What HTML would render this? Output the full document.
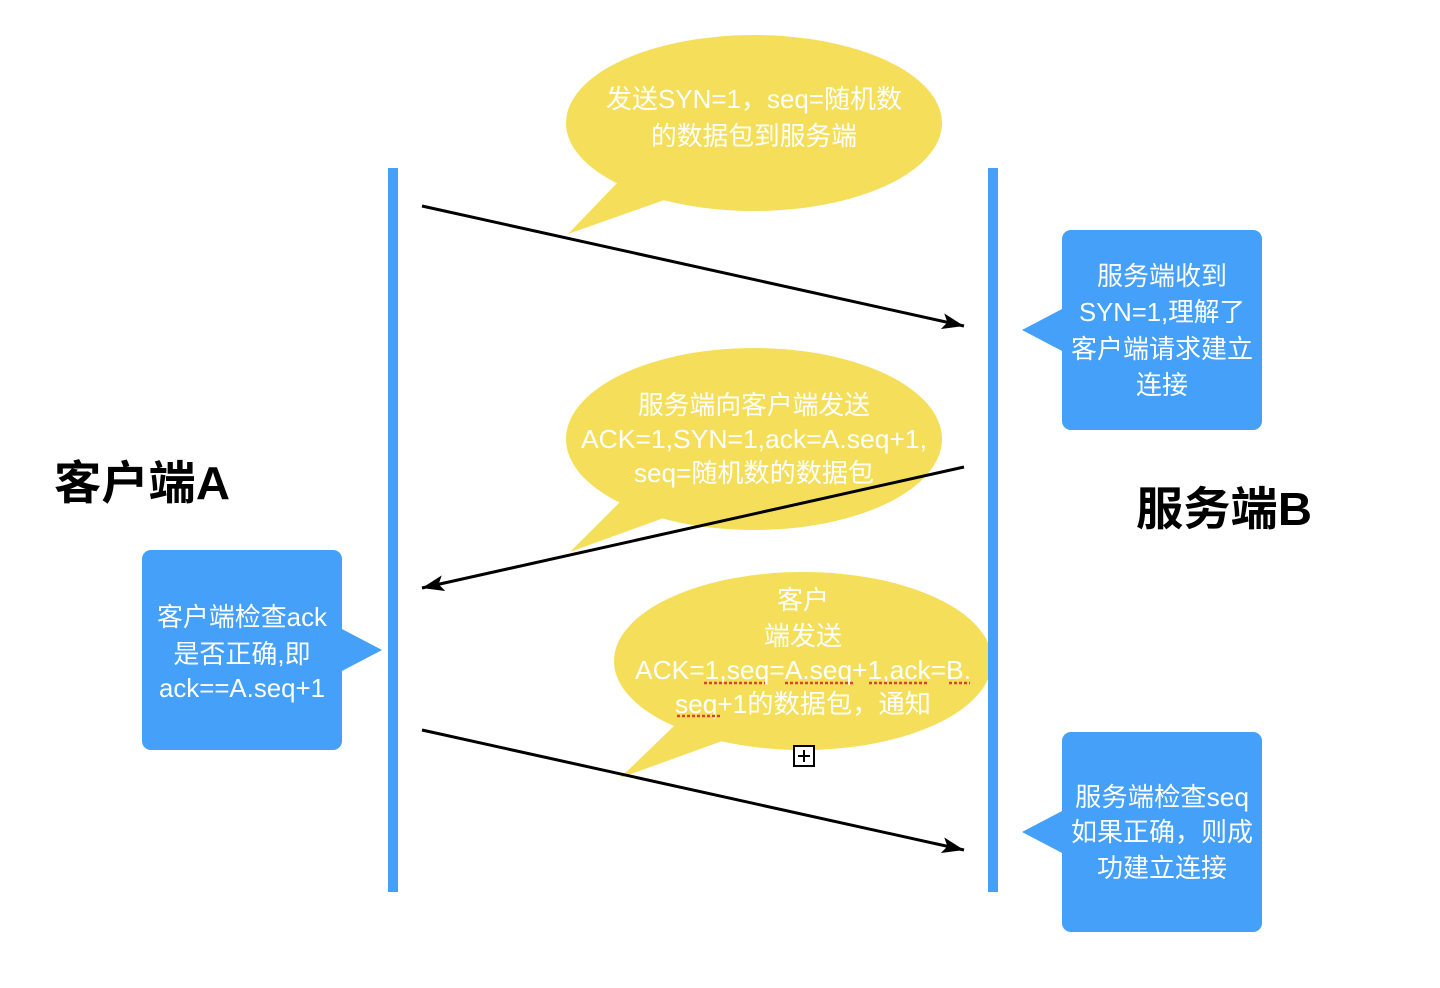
<!DOCTYPE html>
<html><head><meta charset="utf-8"><style>
html,body{margin:0;padding:0;background:#fff;}
svg{display:block;}
text{font-family:"Liberation Sans","Noto Sans CJK SC",sans-serif;}
</style></head><body>
<svg width="1440" height="988" viewBox="0 0 1440 988" xmlns="http://www.w3.org/2000/svg">
<defs>
<marker id="a2" markerWidth="24" markerHeight="16" refX="22" refY="8" orient="auto" markerUnits="userSpaceOnUse">
<path d="M0,0 L22,8 L0,16 L5,8 z" fill="#000"/></marker>
</defs>
<g fill="#f5df5a">
<ellipse cx="754" cy="123" rx="188" ry="88"/>
<path d="M620,180 L568,234 L670,198 z"/>
<ellipse cx="754" cy="439" rx="188" ry="91"/>
<path d="M622,500 L570,552 L672,515 z"/>
<ellipse cx="803" cy="661" rx="189" ry="89"/>
<path d="M675,725 L620,778 L725,740 z"/>
</g>
<rect x="388" y="168" width="10" height="724" fill="#44a0f8"/>
<rect x="988" y="168" width="10" height="724" fill="#44a0f8"/>
<g stroke="#000" stroke-width="3">
<line x1="422" y1="206" x2="964" y2="326" marker-end="url(#a2)"/>
<line x1="964" y1="467" x2="422" y2="588" marker-end="url(#a2)"/>
<line x1="422" y1="730" x2="964" y2="850" marker-end="url(#a2)"/>
</g>
<g fill="#44a0f8">
<rect x="1062" y="230" width="200" height="200" rx="9"/>
<path d="M1064,308 L1022,330 L1064,352 z"/>
<rect x="142" y="550" width="200" height="200" rx="9"/>
<path d="M340,628 L382,650 L340,672 z"/>
<rect x="1062" y="732" width="200" height="200" rx="9"/>
<path d="M1064,810 L1022,832 L1064,854 z"/>
</g>
<g fill="#fff" font-size="26" text-anchor="middle">
<text x="754" y="108" textLength="296" lengthAdjust="spacingAndGlyphs">发送SYN=1，seq=随机数</text>
<text x="754" y="145" textLength="206" lengthAdjust="spacingAndGlyphs">的数据包到服务端</text>
<text x="754" y="414" textLength="232" lengthAdjust="spacingAndGlyphs">服务端向客户端发送</text>
<text x="754" y="448" textLength="346" lengthAdjust="spacingAndGlyphs">ACK=1,SYN=1,ack=A.seq+1,</text>
<text x="754" y="482" textLength="240" lengthAdjust="spacingAndGlyphs">seq=随机数的数据包</text>
<text x="803" y="609">客户</text>
<text x="803" y="645">端发送</text>
<text x="803" y="679" textLength="336" lengthAdjust="spacingAndGlyphs">ACK=1,seq=A.seq+1,ack=B.</text>
<text x="803" y="713" textLength="256" lengthAdjust="spacingAndGlyphs">seq+1的数据包，通知</text>
<text x="1162" y="285">服务端收到</text>
<text x="1162" y="321" textLength="166" lengthAdjust="spacingAndGlyphs">SYN=1,理解了</text>
<text x="1162" y="358" textLength="182" lengthAdjust="spacingAndGlyphs">客户端请求建立</text>
<text x="1162" y="394">连接</text>
<text x="242" y="626" textLength="170" lengthAdjust="spacingAndGlyphs">客户端检查ack</text>
<text x="242" y="663">是否正确,即</text>
<text x="242" y="697" textLength="166" lengthAdjust="spacingAndGlyphs">ack==A.seq+1</text>
<text x="1162" y="806" textLength="174" lengthAdjust="spacingAndGlyphs">服务端检查seq</text>
<text x="1162" y="841" textLength="182" lengthAdjust="spacingAndGlyphs">如果正确，则成</text>
<text x="1162" y="877">功建立连接</text>
</g>
<g stroke="#d9452b" stroke-width="2.5" stroke-dasharray="3,2">
<line x1="704" y1="683" x2="765" y2="683"/>
<line x1="785" y1="683" x2="853" y2="683"/>
<line x1="869" y1="683" x2="929" y2="683"/>
<line x1="949" y1="683" x2="970" y2="683"/>
<line x1="677" y1="716" x2="720" y2="716"/>
</g>
<rect x="794" y="746" width="20" height="20" fill="#fff" stroke="#000" stroke-width="2"/>
<path d="M798,756 H810 M804,750 V762" stroke="#000" stroke-width="2"/>
<g font-size="46" font-weight="bold" fill="#000">
<text x="54" y="499" textLength="176" lengthAdjust="spacingAndGlyphs">客户端A</text>
<text x="1136" y="525" textLength="176" lengthAdjust="spacingAndGlyphs">服务端B</text>
</g>
</svg>
</body></html>
